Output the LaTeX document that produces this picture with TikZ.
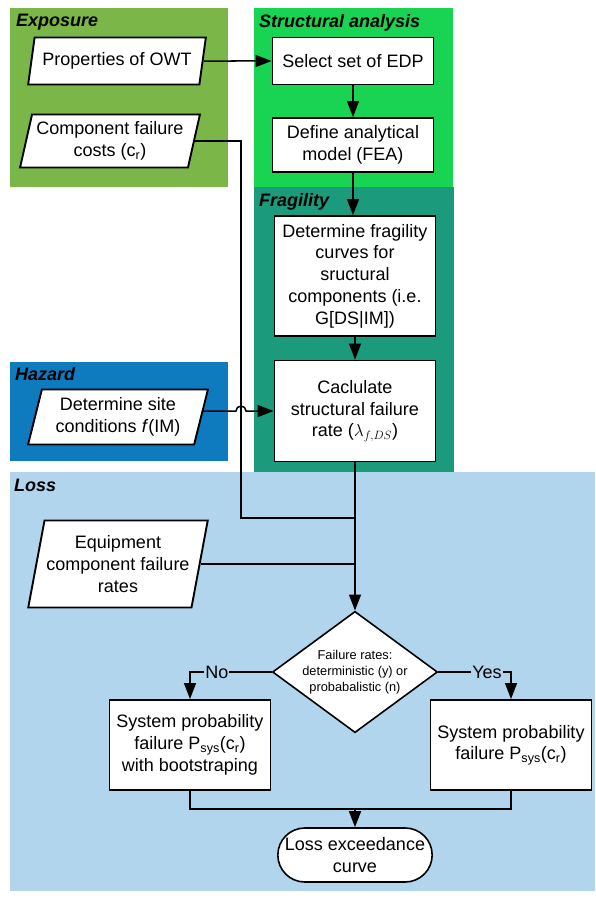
\documentclass[tikz,border=0pt]{standalone}
\usepackage{fontspec}
\setmainfont{Liberation Sans}
\usetikzlibrary{arrows.meta,positioning,shapes.geometric,shapes.misc}

\definecolor{exposure}{HTML}{7AB648}
\definecolor{structural}{HTML}{19D352}
\definecolor{fragility}{HTML}{1B9A7C}
\definecolor{hazard}{HTML}{0F7BBF}
\definecolor{loss}{HTML}{B2D5EE}

\begin{document}
\begin{tikzpicture}[x=1pt, y=-1pt, >={Triangle[length=16pt,width=12pt]},
  font=\fontsize{18}{21.8}\selectfont,
  wire/.style={line width=1.5pt},
  procbox/.style={draw, fill=white, line width=1.9pt, align=center, minimum width=161pt, inner sep=3pt},
  databox/.style={trapezium, trapezium left angle=76, trapezium right angle=104, trapezium stretches=true,
    draw, fill=white, line width=1.9pt, align=center, inner xsep=0pt},
  decision/.style={diamond, aspect=1.36, draw, fill=white, line width=1.6pt, align=center, inner sep=0pt,
    minimum width=163pt, minimum height=120pt, font=\fontsize{12.8}{16}\selectfont},
  endbox/.style={rounded rectangle, draw, fill=white, line width=1.6pt, align=center, minimum width=161pt, minimum height=54pt},
  paneltitle/.style={anchor=north west, inner sep=0pt, font=\fontsize{18}{21.8}\selectfont\bfseries\itshape}]
  \useasboundingbox (0,0) rectangle (595,899);

  % panels
  \fill[exposure] (10,8) rectangle (228,187);
  \fill[structural] (254,8) rectangle (453,187);
  \fill[fragility] (254,187) rectangle (454,472);
  \fill[hazard] (10,362) rectangle (228,461);
  \fill[loss] (10,472) rectangle (595,891);
  \node[paneltitle] (exposureT) at (16,14) {Exposure};
  \node[paneltitle] (structT) at (259,14) {Structural analysis};
  \node[paneltitle] (fragT) at (259,193) {Fragility};
  \node[paneltitle] (hazardT) at (15,367) {Hazard};
  \node[paneltitle] (lossT) at (14,479) {Loss};

  % inputs
  \node[databox, minimum width=178pt, minimum height=47pt] (owt) at (117,61) {Properties of OWT};
  \node[databox, minimum width=180pt, minimum height=53pt] (costs) at (110,141) {Component failure\\costs (c\textsubscript{r})};
  \node[databox, minimum width=180pt, minimum height=55pt] (site) at (118,417) {Determine site\\conditions \textit{f}(IM)};
  \node[databox, minimum width=180pt, minimum height=87pt] (equip) at (118,564) {Equipment\\component failure\\rates};

  % process steps
  \node[procbox, minimum height=47pt] (edp) at (353,61) {Select set of EDP};
  \node[procbox, minimum height=54pt] (fea) at (353,145) {Define analytical\\model (FEA)};
  \node[procbox, minimum height=120pt] (curves) at (355,276) {Determine fragility\\curves for\\sructural\\components (i.e.\\G[DS|IM])};
  \node[procbox, minimum height=101pt] (rate) at (355,411) {Caclulate\\structural failure\\rate ($\lambda_{f,DS}$)};
  \node[decision] (check) at (355,672) {Failure rates:\\deterministic (y) or\\probabalistic (n)};
  \node[procbox, minimum height=90pt] (boot) at (190,745) {System probability\\failure P\textsubscript{sys}(c\textsubscript{r})\\with bootstraping};
  \node[procbox, minimum height=90pt] (psys) at (511,745) {System probability\\failure P\textsubscript{sys}(c\textsubscript{r})};
  \node[endbox] (curve) at (355,855) {Loss exceedance\\curve};

  \coordinate (turn) at (241,518);
  \coordinate[above=18pt of curve] (fork);

  % connectors
  \draw[wire,->] (owt.east) -- (edp.west);
  \draw[wire,->] (edp) -- (fea);
  \draw[wire,->] (fea.south) -- (fea.south |- curves.north);
  \draw[wire,->] (curves) -- (rate);
  \draw[wire] (costs.east) -| (turn) -- (turn -| rate.south);
  \draw[wire,->] (site.east |- rate.west) -- ([xshift=-5pt]turn |- rate.west)
    arc[start angle=180, end angle=0, radius=5pt] -- (rate.west);
  \draw[wire,->] (rate.south) -- (check.north);
  \draw[wire] (equip.east) -- (equip.east -| rate.south);
  \draw[wire,->] (check.west) -| node[pos=0.335, fill=loss, inner sep=1pt] (noT) {No} (boot.north);
  \draw[wire,->] (check.east) -| node[pos=0.335, fill=loss, inner sep=1pt] (yesT) {Yes} (psys.north);
  \draw[wire] (boot.south) |- (fork) -| (psys.south);
  \draw[wire,->] (fork) -- (curve.north);
\end{tikzpicture}
\end{document}
